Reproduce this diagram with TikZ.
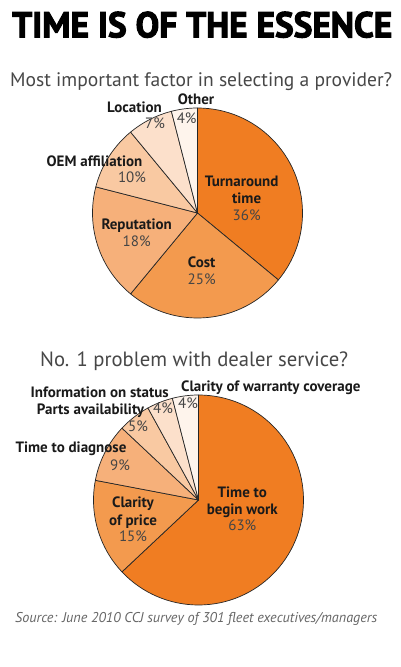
\documentclass[tikz,border=0pt]{standalone}
\usepackage{fontspec}
\usepackage{graphicx}
\setmainfont{PT Sans}
\newfontfamily\titlefont[FakeBold=3]{PT Sans}
\definecolor{sA}{HTML}{F07D22}
\definecolor{sB}{HTML}{F39A4E}
\definecolor{sC}{HTML}{F6B07A}
\definecolor{sD}{HTML}{F9C9A2}
\definecolor{sE}{HTML}{FCE0CB}
\definecolor{sF}{HTML}{FEF4EC}
\definecolor{txt}{HTML}{1A1A1A}
\definecolor{pcol}{HTML}{454545}
\definecolor{subcol}{HTML}{474747}
\tikzset{
  slice/.style={draw=black!85, line width=0.7pt, line join=round},
  lab/.style={font=\bfseries\fontsize{15}{17}\selectfont, text=txt, anchor=base, inner sep=0pt},
  pct/.style={font=\fontsize{15}{17}\selectfont, text=pcol, anchor=base, inner sep=0pt},
  heading/.style={anchor=base west, inner sep=0pt},
}
\begin{document}
\begin{tikzpicture}[x=1pt,y=1pt]
\useasboundingbox (0,0) rectangle (400,667);
\fill[white] (0,0) rectangle (400,667);

% title and subtitles
\node[heading, text=black] (title) at (12,629.7) {\resizebox{380pt}{25.6pt}{\titlefont\bfseries TIME IS OF THE ESSENCE}};
\node[heading, text=subcol] (sub1) at (10,580) {\resizebox{382pt}{!}{Most important factor in selecting a provider?}};
\node[heading, text=subcol] (sub2) at (40,300.3) {\resizebox{308pt}{!}{No. 1 problem with dealer service?}};
\node[heading, text=black!60] (src) at (15,44.7) {\resizebox{362pt}{!}{\itshape Source: June 2010 CCJ survey of 301 fleet executives/managers}};

% pie 1
\coordinate (c1) at (197.5,454);
\filldraw[slice, fill=sA] (c1) -- ++(90:105pt) arc[start angle=90, end angle=-39.6, radius=105pt] -- cycle;
\filldraw[slice, fill=sB] (c1) -- ++(-39.6:105pt) arc[start angle=-39.6, end angle=-129.6, radius=105pt] -- cycle;
\filldraw[slice, fill=sC] (c1) -- ++(-129.6:105pt) arc[start angle=-129.6, end angle=-194.4, radius=105pt] -- cycle;
\filldraw[slice, fill=sD] (c1) -- ++(165.6:105pt) arc[start angle=165.6, end angle=129.6, radius=105pt] -- cycle;
\filldraw[slice, fill=sE] (c1) -- ++(129.6:105pt) arc[start angle=129.6, end angle=104.4, radius=105pt] -- cycle;
\filldraw[slice, fill=sF] (c1) -- ++(104.4:105pt) arc[start angle=104.4, end angle=90, radius=105pt] -- cycle;

\node[lab] (turn) at (241.7,480.8) {Turnaround};
\node[lab] (turn2) at (246.7,463.5) {time};
\node[pct] (turnp) at (246.7,446.5) {36\%};
\node[lab] (cost) at (201.7,399.2) {Cost};
\node[pct] (costp) at (201.7,382.5) {25\%};
\node[lab] (rep) at (136.7,437.5) {Reputation};
\node[pct] (repp) at (136.7,420.8) {18\%};
\node[lab] (oem) at (94.5,500.8) {OEM affiliation};
\node[pct] (oemp) at (132,484.5) {10\%};
\node[lab] (loc) at (134.5,554.8) {Location};
\node[pct] (locp) at (155,538.5) {7\%};
\node[lab] (oth) at (196,562.5) {Other};
\node[pct] (othp) at (186.7,543.2) {4\%};

% pie 2
\coordinate (c2) at (198.5,167);
\filldraw[slice, fill=sA] (c2) -- ++(90:105pt) arc[start angle=90, end angle=-136.8, radius=105pt] -- cycle;
\filldraw[slice, fill=sB] (c2) -- ++(-136.8:105pt) arc[start angle=-136.8, end angle=-190.8, radius=105pt] -- cycle;
\filldraw[slice, fill=sC] (c2) -- ++(169.2:105pt) arc[start angle=169.2, end angle=136.8, radius=105pt] -- cycle;
\filldraw[slice, fill=sD] (c2) -- ++(136.8:105pt) arc[start angle=136.8, end angle=118.8, radius=105pt] -- cycle;
\filldraw[slice, fill=sE] (c2) -- ++(118.8:105pt) arc[start angle=118.8, end angle=104.4, radius=105pt] -- cycle;
\filldraw[slice, fill=sF] (c2) -- ++(104.4:105pt) arc[start angle=104.4, end angle=90, radius=105pt] -- cycle;

\node[lab] (war) at (270.8,275.2) {Clarity of warranty coverage};
\node[pct] (warp) at (188,258.5) {4\%};
\node[lab] (inf) at (99.7,269.8) {Information on status};
\node[pct] (infp) at (163,253.2) {4\%};
\node[lab] (par) at (90.5,252.5) {Parts availability};
\node[pct] (parp) at (138,235.5) {5\%};
\node[lab] (dia) at (71,214.2) {Time to diagnose};
\node[pct] (diap) at (120,196.5) {9\%};
\node[lab] (pri) at (133,159.2) {Clarity};
\node[lab] (pri2) at (133,141.8) {of price};
\node[pct] (prip) at (133,125.8) {15\%};
\node[lab] (beg) at (242.3,169.2) {Time to};
\node[lab] (beg2) at (242.3,152.5) {begin work};
\node[pct] (begp) at (242.3,136.5) {63\%};
\end{tikzpicture}
\end{document}
